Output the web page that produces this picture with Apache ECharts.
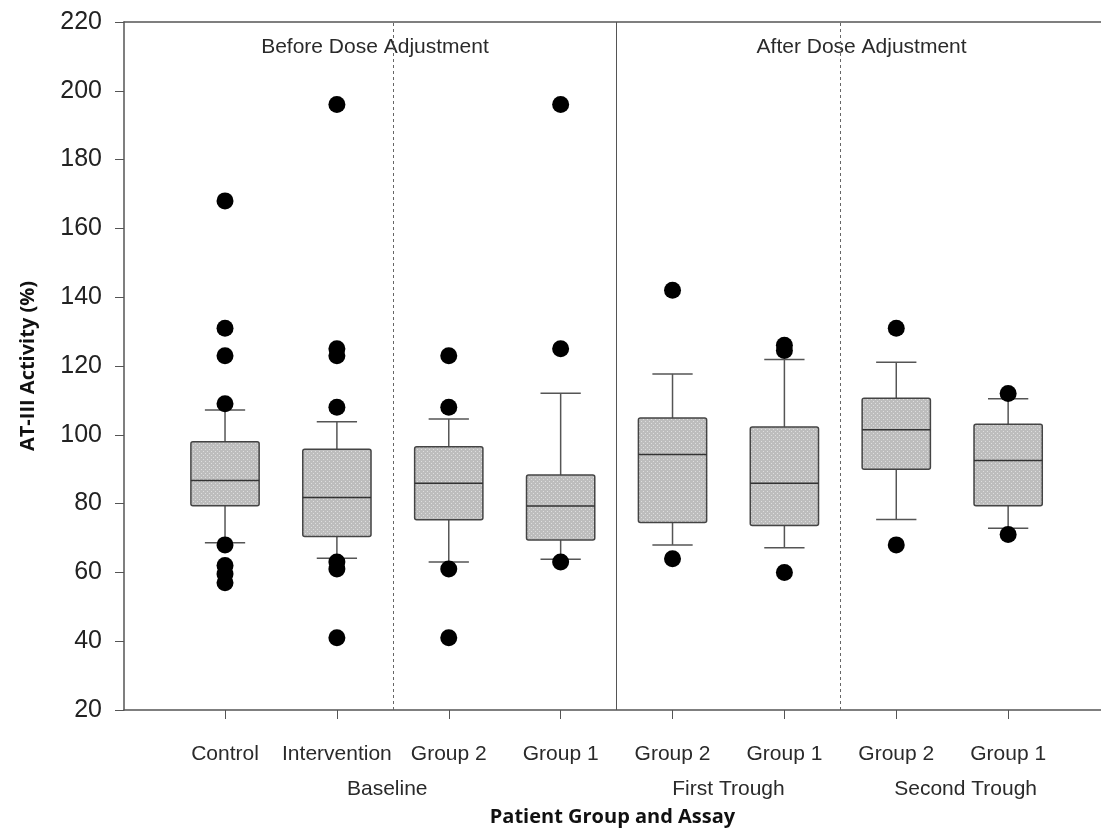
<!DOCTYPE html>
<html>
<head>
<meta charset="utf-8">
<script src="https://cdn.jsdelivr.net/npm/echarts@6/dist/echarts.min.js"></script>
<style>
  html, body { margin: 0; padding: 0; background: #fff; }
  #chart { width: 1101px; height: 829px; }
</style>
</head>
<body>
<div id="chart"></div>
<script>
// categories along the x axis (1..8)
const categories = ['Control', 'Intervention', 'Group 2', 'Group 1', 'Group 2', 'Group 1', 'Group 2', 'Group 1'];
const assays = ['Baseline', 'First Trough', 'Second Trough'];
const phases = ['Before Dose Adjustment', 'After Dose Adjustment'];

// box plot values, AT-III activity (%)
const whiskerLow  = [68.6, 64.1, 63.0, 63.8, 68.0, 67.2, 75.4, 72.8];
const q1          = [79.4, 70.4, 75.3, 69.4, 74.5, 73.6, 90.0, 79.4];
const median      = [86.7, 81.8, 85.9, 79.3, 94.3, 85.9, 101.5, 92.5];
const q3          = [98.0, 95.8, 96.5, 88.3, 104.9, 102.3, 110.6, 103.1];
const whiskerHigh = [107.2, 103.8, 104.6, 112.1, 117.7, 121.9, 121.1, 110.5];

// outliers per category
const outliers = [
  [168, 131, 123, 109, 68, 62, 59.5, 57],
  [196, 125, 123, 108, 63, 61, 41],
  [123, 108, 61, 41],
  [196, 125, 63],
  [142, 64],
  [126, 124.5, 60],
  [131, 68],
  [112, 71]
];

const yTicks = [20, 40, 60, 80, 100, 120, 140, 160, 180, 200, 220];

const boxData = categories.map((c, i) => [i + 1, whiskerLow[i], q1[i], median[i], q3[i], whiskerHigh[i]]);
const outlierData = [];
outliers.forEach((list, i) => list.forEach(v => outlierData.push([i + 1, v])));

// where the text rows sit along the x axis
const catPos = [1, 2, 3, 4, 5, 6, 7, 8];
const assayPos = [2.45, 5.5, 7.62];
const phasePos = [2.34, 6.69];
const nearest = (list, v) => {
  let best = 0;
  list.forEach((p, i) => { if (Math.abs(p - v) < Math.abs(list[best] - v)) best = i; });
  return best;
};

// stippled grey fill like the original
const tile = document.createElement('canvas');
tile.width = 4; tile.height = 4;
const tctx = tile.getContext('2d');
tctx.fillStyle = '#bdbdbd';
tctx.fillRect(0, 0, 4, 4);
tctx.fillStyle = '#dedede';
tctx.fillRect(1, 1, 1, 1);
tctx.fillRect(3, 3, 1, 1);
const boxFill = { image: tile, repeat: 'repeat' };

const axisFont = 'Liberation Sans, Arial, sans-serif';
const titleFont = 'Open Sans, sans-serif';

const chart = echarts.init(document.getElementById('chart'));

const option = {
  animation: false,
  backgroundColor: '#fff',
  grid: {
    left: 124, right: 0, top: 22, bottom: 119,
    outerBoundsMode: 'none'
  },
  xAxis: [
    {
      type: 'value',
      min: 0.097,
      max: 8.83,
      position: 'bottom',
      name: 'Patient Group and Assay',
      nameLocation: 'middle',
      nameGap: 97,
      nameTextStyle: { fontFamily: titleFont, fontWeight: 'bold', fontSize: 20, color: '#111' },
      axisLine: { show: true, lineStyle: { color: '#555', width: 1.5 } },
      axisTick: { show: true, length: 9, customValues: catPos, lineStyle: { color: '#555' } },
      axisLabel: {
        customValues: catPos,
        formatter: v => categories[nearest(catPos, v)],
        margin: 34,
        fontFamily: axisFont, fontSize: 21, color: '#2a2a2a'
      },
      splitLine: { show: false }
    },
    {
      // second label row: assay names
      type: 'value',
      min: 0.097,
      max: 8.83,
      position: 'bottom',
      axisLine: { show: false },
      axisTick: { show: false },
      axisLabel: {
        customValues: assayPos,
        formatter: v => assays[nearest(assayPos, v)],
        margin: 69,
        fontFamily: axisFont, fontSize: 21, color: '#2a2a2a'
      },
      splitLine: { show: false }
    },
    {
      // top frame + phase headings
      type: 'value',
      min: 0.097,
      max: 8.83,
      position: 'top',
      axisLine: { show: true, lineStyle: { color: '#555', width: 1.5 } },
      axisTick: { show: false },
      axisLabel: {
        inside: true,
        customValues: phasePos,
        formatter: v => phases[nearest(phasePos, v)],
        margin: 15,
        fontFamily: axisFont, fontSize: 21, color: '#2a2a2a'
      },
      splitLine: { show: false }
    }
  ],
  yAxis: {
    type: 'value',
    min: 20,
    max: 220,
    interval: 20,
    name: 'AT-III Activity (%)',
    nameLocation: 'middle',
    nameGap: 86,
    nameTextStyle: { fontFamily: titleFont, fontWeight: 'bold', fontSize: 20, color: '#111' },
    axisLine: { show: true, lineStyle: { color: '#555', width: 1.5 } },
    axisTick: { show: true, length: 9, lineStyle: { color: '#555' } },
    axisLabel: {
      margin: 22,
      formatter: v => yTicks.includes(v) ? String(v) : '',
      fontFamily: axisFont, fontSize: 25, color: '#222'
    },
    splitLine: { show: false }
  },
  series: [
    {
      type: 'custom',
      xAxisIndex: 0,
      data: boxData,
      encode: { x: 0, y: [1, 2, 3, 4, 5] },
      renderItem: function (params, api) {
        const x = api.value(0);
        const low = api.coord([x, api.value(1)]);
        const bq1 = api.coord([x, api.value(2)]);
        const med = api.coord([x, api.value(3)]);
        const bq3 = api.coord([x, api.value(4)]);
        const high = api.coord([x, api.value(5)]);
        const band = api.size([1, 0])[0];
        const bw = band * 0.61;
        const cw = band * 0.36;
        const cx = low[0];
        const ls = { stroke: '#555', lineWidth: 1.5 };
        return {
          type: 'group',
          children: [
            { type: 'line', shape: { x1: cx, y1: high[1], x2: cx, y2: bq3[1] }, style: ls },
            { type: 'line', shape: { x1: cx, y1: bq1[1], x2: cx, y2: low[1] }, style: ls },
            { type: 'line', shape: { x1: cx - cw / 2, y1: high[1], x2: cx + cw / 2, y2: high[1] }, style: ls },
            { type: 'line', shape: { x1: cx - cw / 2, y1: low[1], x2: cx + cw / 2, y2: low[1] }, style: ls },
            {
              type: 'rect',
              shape: { x: cx - bw / 2, y: bq3[1], width: bw, height: bq1[1] - bq3[1], r: 2 },
              style: { fill: boxFill, stroke: '#444', lineWidth: 1.5 }
            },
            { type: 'line', shape: { x1: cx - bw / 2, y1: med[1], x2: cx + bw / 2, y2: med[1] }, style: { stroke: '#333', lineWidth: 1.5 } }
          ]
        };
      },
      markLine: {
        silent: true,
        symbol: 'none',
        label: { show: false },
        data: [
          { xAxis: 2.5, lineStyle: { type: [3, 3], color: '#666', width: 1 } },
          { xAxis: 4.5, lineStyle: { type: 'solid', color: '#555', width: 1 } },
          { xAxis: 6.5, lineStyle: { type: [3, 3], color: '#666', width: 1 } }
        ]
      }
    },
    {
      type: 'scatter',
      xAxisIndex: 0,
      data: outlierData,
      symbol: 'circle',
      symbolSize: 17,
      itemStyle: { color: '#000', opacity: 1 },
      z: 5
    }
  ]
};

chart.setOption(option);
</script>
</body>
</html>
